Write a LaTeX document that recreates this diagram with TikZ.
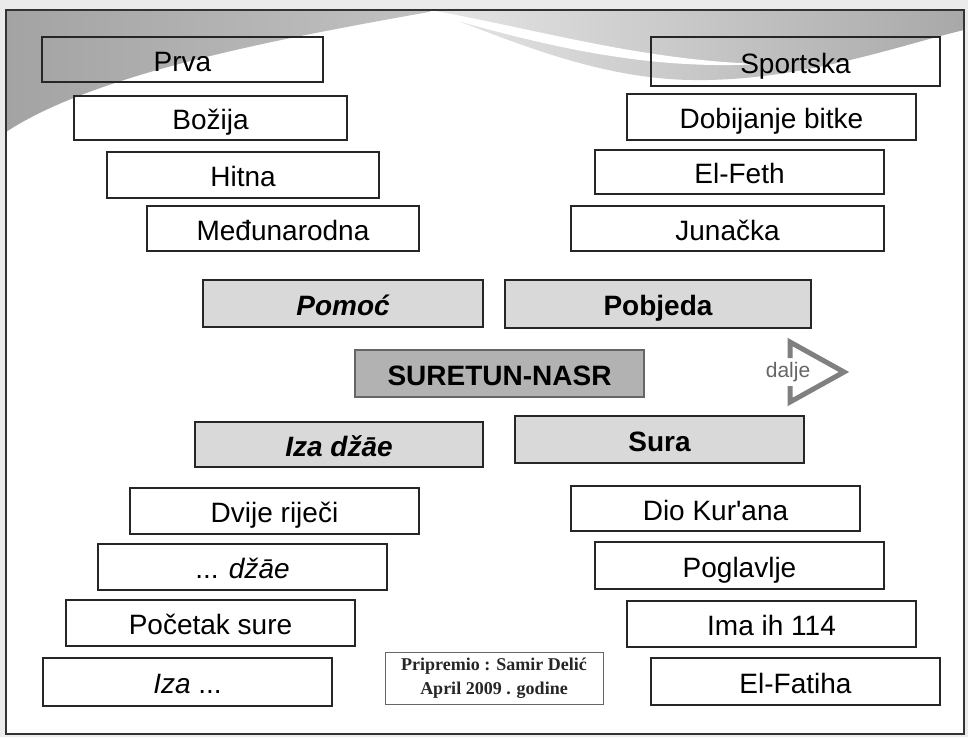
\documentclass[tikz,border=0pt]{standalone}
\usepackage{fontspec}
\setmainfont{Liberation Sans}[Ligatures=TeXOff]
\newfontfamily\creditfont{Liberation Serif}
\tikzset{
  pojam/.style={draw=black!85, line width=1.4pt, inner sep=0pt,
    font=\fontsize{28}{32}\selectfont, text height=25pt, text depth=2pt},
  naslov/.style={pojam, fill=black!15},
  glavni/.style={pojam, draw=black!60, line width=1.2pt, fill=black!30},
  strelica/.style={draw=black!50, line width=5pt, miter limit=10},
}
\begin{document}
\begin{tikzpicture}[x=1pt,y=-1pt]
  \useasboundingbox (0,0) rectangle (968,737);
  \fill[black!8] (0,0) rectangle (968,737);
  \fill[white] (6,10) rectangle (964,734);
  % top swoosh
  \shade[left color=black!36, right color=black!24]
    (6,10) -- (440,10) .. controls (300,35) and (100,70) .. (6,132) -- cycle;
  \shade[left color=black!10, right color=black!34]
    (430,10) -- (964,10) -- (964,30) .. controls (900,45) and (800,82) .. (690,80)
    .. controls (600,78) and (520,45) .. (430,10) -- cycle;
  \fill[white] (430,10) .. controls (540,30) and (640,60) .. (760,64)
    .. controls (640,71) and (530,42) .. (430,13) -- cycle;
  % plain boxes
  \foreach \ime/\cx/\cy/\w/\h/\tekst in {
      prva/182.5/59.5/281/45/Prva,
      bozija/210.5/118/273/44/Božija,
      hitna/243/175/272/46/Hitna,
      medjunarodna/283/228.5/272/45/Međunarodna,
      sportska/795.5/61.5/289/49/Sportska,
      dobijanje/771.5/117/289/46/Dobijanje bitke,
      elfeth/739.5/172/289/44/El-Feth,
      junacka/727.5/228.5/313/45/Junačka,
      dvije/274.5/511/289/46/Dvije riječi,
      dzae/242.5/567/289/46/{... \textit{džāe}},
      pocetak/210.5/623/289/46/Početak sure,
      iza/187.5/682/289/48/{\textit{Iza} ...},
      dio/715.5/508.5/289/45/{Dio Kur'ana},
      poglavlje/739.5/565.5/289/47/Poglavlje,
      ima/771.5/624/289/46/Ima ih 114,
      fatiha/795.5/681.5/289/47/El-Fatiha}
    \node[pojam, minimum width=\w pt, minimum height=\h pt] (\ime) at (\cx,\cy) {\tekst};
  % grey boxes
  \node[naslov, minimum width=280pt, minimum height=47pt, font=\fontsize{28}{32}\selectfont\bfseries\itshape] (pomoc) at (343,303.5) {Pomoć};
  \node[naslov, minimum width=306pt, minimum height=48pt, font=\fontsize{28}{32}\selectfont\bfseries] (pobjeda) at (658,304) {Pobjeda};
  \node[glavni, minimum width=289pt, minimum height=47pt, font=\fontsize{28}{32}\selectfont\bfseries] (suretun) at (499.5,373.5) {SURETUN-NASR};
  \node[naslov, minimum width=288pt, minimum height=45pt, font=\fontsize{28}{32}\selectfont\bfseries\itshape] (izadzae) at (339,444.5) {Iza džāe};
  \node[naslov, minimum width=289pt, minimum height=47pt, font=\fontsize{28}{32}\selectfont\bfseries] (sura) at (659.5,439.5) {Sura};
  % dalje
  \draw[strelica] (790,358) -- (790,342) -- (844,372) -- (790,402) -- (790,386);
  \node[font=\fontsize{21}{22}\selectfont, text=black!60] (dalje) at (788,372) {dalje};
  % credit
  \node[draw=black!60, line width=1pt, minimum width=218pt, minimum height=52pt, align=center,
    font=\creditfont\bfseries\fontsize{18}{24}\selectfont, text=black!85] (autor) at (494,678)
    {Pripremio : Samir Delić\\April 2009 . godine};
  \draw[black!80, line width=2pt] (6,10) rectangle (964,734);
\end{tikzpicture}
\end{document}
